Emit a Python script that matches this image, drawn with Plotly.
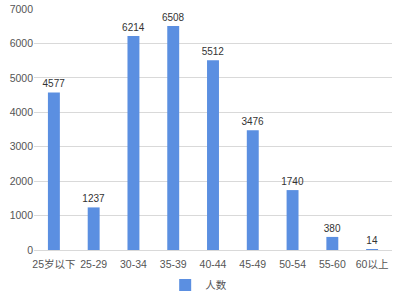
import plotly.graph_objects as go

categories = ["25岁以下", "25-29", "30-34", "35-39", "40-44", "45-49", "50-54", "55-60", "60以上"]
values = [4577, 1237, 6214, 6508, 5512, 3476, 1740, 380, 14]
y_ticks = [0, 1000, 2000, 3000, 4000, 5000, 6000, 7000]

font_family = "Liberation Sans, Noto Sans CJK SC, Arial, sans-serif"

fig = go.Figure(go.Bar(
    x=categories, y=values, name="人数",
    marker=dict(color="#5b8fe1", line=dict(width=0)),
    text=[str(v) for v in values], textposition="outside",
    textfont=dict(size=10, color="#333333"),
    constraintext="none", textangle=0,
    cliponaxis=False,
))
fig.update_layout(
    width=400, height=300,
    margin=dict(l=34, r=8, t=9, b=50, autoexpand=False),
    paper_bgcolor="white", plot_bgcolor="white",
    font=dict(family=font_family, size=10.5, color="#555555"),
    bargap=0.7,
    showlegend=True,
    legend=dict(orientation="h", x=0.46, xanchor="center", y=-0.085, yanchor="top",
                font=dict(size=10.5, color="#555555"), itemwidth=30),
    xaxis=dict(showgrid=False, showline=True, linecolor="#d9d9d9", ticks="",
               ticklabelstandoff=4,
               tickfont=dict(size=10.5, color="#555555")),
    yaxis=dict(range=[0, 7000], tickvals=y_ticks, showgrid=True, gridcolor="#d9d9d9",
               zeroline=False, showline=False, ticks="", tickfont=dict(size=10.5, color="#555555")),
)
fig.write_html("out.html")
